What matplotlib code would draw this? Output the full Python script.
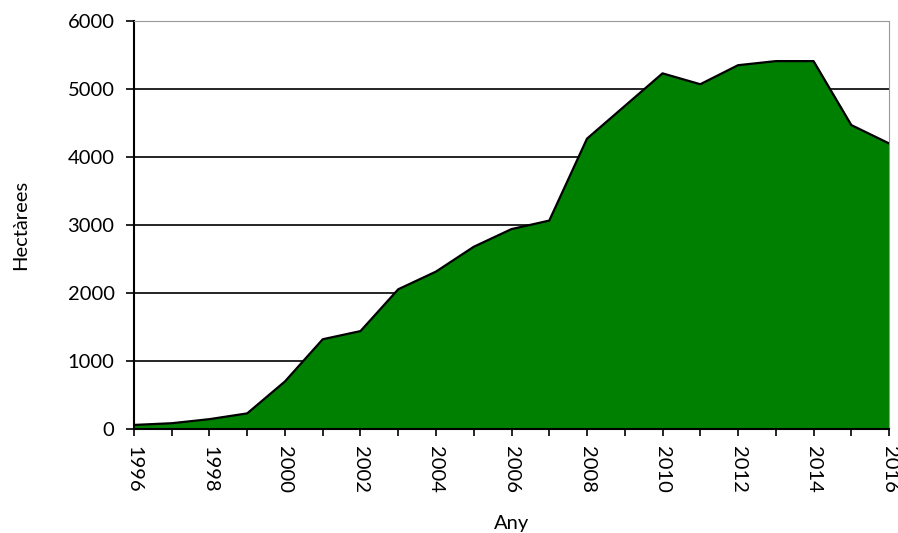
import matplotlib.pyplot as plt
from matplotlib.ticker import MultipleLocator

# Dades (hectàrees per any)
anys = list(range(1996, 2017))
hectarees = [60, 85, 145, 230, 700, 1320, 1440, 2055, 2315, 2680, 2940,
             3065, 4270, 4750, 5230, 5070, 5350, 5410, 5410, 4470, 4200]

plt.rcParams['font.family'] = ['Lato', 'DejaVu Sans']

fig = plt.figure(figsize=(8.98, 5.33), dpi=100)
ax = fig.add_axes([0.1492, 0.1951, 0.8408, 0.7655])

ax.fill_between(anys, hectarees, 0, color='#008000', zorder=2)
ax.plot(anys, hectarees, color='black', lw=1.6, zorder=3)

ax.set_xlim(1996, 2016)
ax.set_ylim(0, 6000)
ax.yaxis.set_major_locator(MultipleLocator(1000))
ax.xaxis.set_major_locator(MultipleLocator(2))
ax.xaxis.set_minor_locator(MultipleLocator(1))
ax.grid(axis='y', color='black', lw=1.2, zorder=1)

for s in ['top', 'right']:
    ax.spines[s].set_color('#999999')
ax.spines['left'].set_linewidth(1.5)
ax.spines['bottom'].set_linewidth(1.5)

ax.tick_params(axis='y', labelsize=14.5, length=6, width=1.2, pad=8, direction='out')
ax.tick_params(axis='x', which='both', labelsize=14.5, length=5, width=1.2, pad=7, direction='out')
for lbl in ax.get_xticklabels():
    lbl.set_rotation(270)

ax.set_xlabel('Any', fontsize=14.5, labelpad=16)
ax.set_ylabel('Hectàrees', fontsize=14.5, labelpad=28)

fig.savefig('out.png', dpi=100)
